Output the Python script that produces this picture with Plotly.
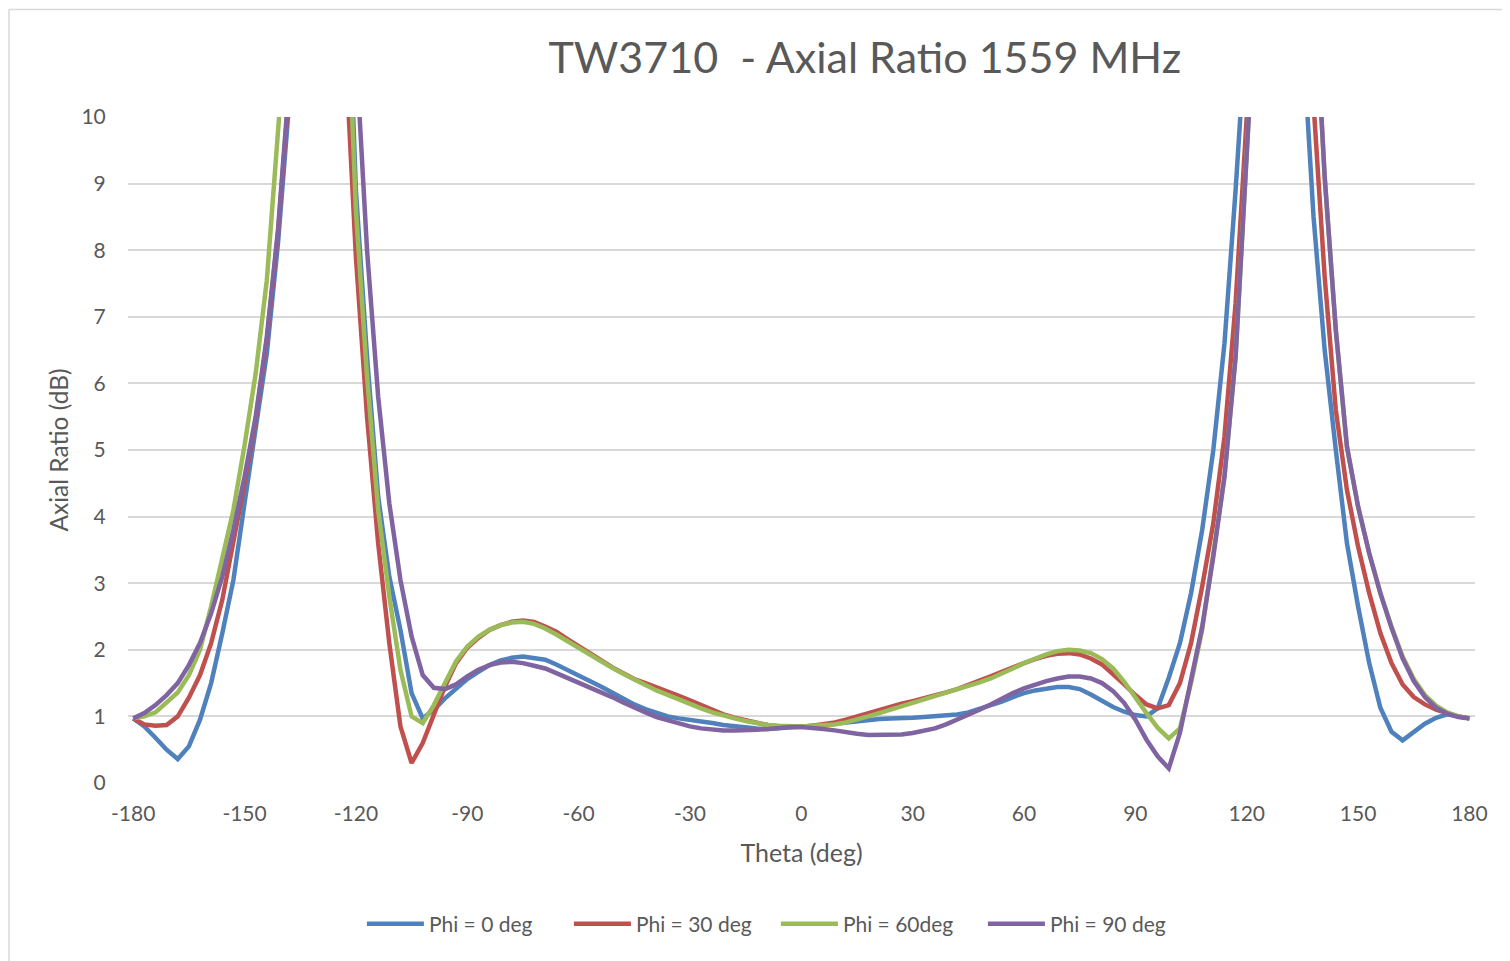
import plotly.graph_objects as go

theta = [-180, -177, -174, -171, -168, -165, -162, -159, -156, -153, -150, -147, -144, -141, -138,
         -135, -132, -129, -126, -123, -120, -117, -114, -111, -108, -105, -102, -99, -96, -93,
         -90, -87, -84, -81, -78, -75, -72, -69, -66, -63, -60, -57, -54, -51, -48, -45, -42,
         -39, -36, -33, -30, -27, -24, -21, -18, -15, -12, -9, -6, -3, 0, 3, 6, 9, 12, 15, 18,
         21, 24, 27, 30, 33, 36, 39, 42, 45, 48, 51, 54, 57, 60, 63, 66, 69, 72, 75, 78, 81, 84,
         87, 90, 93, 96, 99, 102, 105, 108, 111, 114, 117, 120, 123, 126, 129, 132, 135, 138,
         141, 144, 147, 150, 153, 156, 159, 162, 165, 168, 171, 174, 177, 180]

phi0 = [0.97, 0.85, 0.68, 0.50, 0.36, 0.55, 0.95, 1.50, 2.25, 3.05, 4.20, 5.30, 6.45, 8.10, 10.2,
        16, 24, 28, 24, 13.5, 8.9, 6.4, 4.3, 3.1, 2.3, 1.35, 0.97, 1.10, 1.27, 1.42,
        1.56, 1.67, 1.77, 1.84, 1.88, 1.90, 1.88, 1.85, 1.78, 1.70, 1.62, 1.53, 1.45, 1.36, 1.27, 1.18, 1.11,
        1.05, 1.00, 0.97, 0.95, 0.93, 0.90, 0.87, 0.85, 0.83, 0.82, 0.81, 0.82, 0.83, 0.84, 0.85, 0.87, 0.89, 0.91, 0.93, 0.95,
        0.96, 0.97, 0.97, 0.98, 0.99, 1.00, 1.01, 1.03, 1.06, 1.11, 1.16, 1.22, 1.29, 1.35, 1.39, 1.42, 1.44, 1.44, 1.41, 1.33, 1.23, 1.14,
        1.07, 1.02, 1.00, 1.12, 1.58, 2.10, 2.85, 3.80, 5.00, 6.60, 8.90, 11.5, 16, 24, 28, 22, 11.3, 8.5,
        6.5, 5.0, 3.6, 2.65, 1.80, 1.13, 0.77, 0.64, 0.76, 0.89, 0.98, 1.03, 1.00, 0.97]

phi30 = [0.97, 0.88, 0.86, 0.87, 1.00, 1.28, 1.62, 2.10, 2.75, 3.60, 4.50, 5.45, 6.65, 8.25, 10.4,
         16, 24, 28, 22, 11.2, 7.9, 5.5, 3.6, 2.1, 0.85, 0.30, 0.60, 1.02, 1.45, 1.80,
         2.03, 2.18, 2.30, 2.37, 2.42, 2.44, 2.42, 2.35, 2.27, 2.16, 2.05, 1.94, 1.84, 1.74, 1.65, 1.56, 1.50,
         1.44, 1.38, 1.31, 1.24, 1.17, 1.10, 1.03, 0.98, 0.94, 0.90, 0.87, 0.85, 0.84, 0.84, 0.86, 0.88, 0.91, 0.95, 1.00, 1.05,
         1.10, 1.15, 1.19, 1.23, 1.27, 1.31, 1.36, 1.41, 1.47, 1.53, 1.60, 1.67, 1.74, 1.80, 1.86, 1.91, 1.94, 1.95, 1.93, 1.87, 1.78, 1.64,
         1.48, 1.32, 1.18, 1.12, 1.17, 1.50, 2.10, 2.95, 3.90, 5.20, 7.20, 10.0, 14, 22, 28, 24, 14, 10.2,
         7.6, 5.6, 4.4, 3.55, 2.85, 2.25, 1.80, 1.48, 1.29, 1.18, 1.10, 1.05, 1.00, 0.97]

phi60 = [0.97, 1.00, 1.06, 1.20, 1.36, 1.62, 2.00, 2.65, 3.37, 4.10, 5.07, 6.15, 7.55, 9.50, 12.0,
         18, 26, 28, 22, 12.8, 8.6, 6.1, 4.1, 2.8, 1.70, 1.00, 0.90, 1.17, 1.50, 1.83,
         2.05, 2.20, 2.30, 2.37, 2.41, 2.42, 2.39, 2.32, 2.23, 2.13, 2.02, 1.92, 1.82, 1.73, 1.64, 1.55, 1.47,
         1.39, 1.32, 1.25, 1.18, 1.12, 1.06, 1.01, 0.97, 0.93, 0.90, 0.87, 0.86, 0.85, 0.85, 0.86, 0.87, 0.88, 0.91, 0.95, 1.00,
         1.05, 1.10, 1.15, 1.20, 1.25, 1.30, 1.35, 1.40, 1.45, 1.51, 1.57, 1.64, 1.72, 1.80, 1.87, 1.93, 1.98, 2.00, 1.99, 1.95, 1.86, 1.72,
         1.52, 1.28, 1.05, 0.83, 0.67, 0.82, 1.50, 2.30, 3.40, 4.60, 6.40, 9.10, 12.5, 20, 28, 26, 18, 12.2,
         9.1, 6.8, 5.05, 4.15, 3.45, 2.85, 2.35, 1.90, 1.56, 1.32, 1.16, 1.06, 1.00, 0.97]

phi90 = [0.97, 1.05, 1.17, 1.32, 1.50, 1.77, 2.10, 2.55, 3.10, 3.80, 4.60, 5.50, 6.70, 8.30, 10.5,
         16, 24, 30, 26, 15, 11.0, 8.0, 5.8, 4.2, 3.05, 2.20, 1.62, 1.43, 1.41, 1.48,
         1.60, 1.70, 1.77, 1.81, 1.82, 1.80, 1.76, 1.72, 1.65, 1.58, 1.51, 1.44, 1.37, 1.29, 1.21, 1.13, 1.06,
         0.99, 0.94, 0.89, 0.85, 0.82, 0.80, 0.79, 0.79, 0.79, 0.80, 0.81, 0.83, 0.84, 0.84, 0.83, 0.81, 0.79, 0.76, 0.74, 0.72,
         0.72, 0.72, 0.73, 0.75, 0.78, 0.82, 0.88, 0.95, 1.03, 1.10, 1.18, 1.27, 1.35, 1.42, 1.48, 1.53, 1.57, 1.60, 1.60, 1.57, 1.50, 1.38,
         1.20, 0.95, 0.65, 0.40, 0.22, 0.75, 1.55, 2.35, 3.40, 4.60, 6.40, 9.10, 12.5, 20, 28, 26, 18, 12.2,
         9.1, 6.8, 5.05, 4.15, 3.45, 2.85, 2.33, 1.87, 1.53, 1.29, 1.13, 1.04, 0.99, 0.97]

series_names = ["Phi = 0 deg", "Phi = 30 deg", "Phi = 60deg", "Phi = 90 deg"]
series_values = [phi0, phi30, phi60, phi90]
series_colors = ["#4F81BD", "#C0504D", "#9BBB59", "#8064A2"]

x_ticks = [-180, -150, -120, -90, -60, -30, 0, 30, 60, 90, 120, 150, 180]
y_ticks = [0, 1, 2, 3, 4, 5, 6, 7, 8, 9, 10]

FONT = "Lato, 'Open Sans', sans-serif"
TXT = "#595959"

fig = go.Figure()
for name, vals, col in zip(series_names, series_values, series_colors):
    fig.add_trace(go.Scatter(x=theta, y=vals, mode="lines", name=name,
                             line=dict(color=col, width=4.5)))

# the page body has an 8px margin, so the figure is sized to fill the rest of the window
fig.update_layout(
    width=1502, height=953,
    paper_bgcolor="white", plot_bgcolor="white",
    margin=dict(l=120, r=35, t=109, b=178, autoexpand=False),
    font=dict(family=FONT, color=TXT),
    title=dict(text="TW3710  - Axial Ratio 1559 MHz", x=0.547, xref="paper", xanchor="center",
               y=0.9475, yref="container", yanchor="middle",
               font=dict(size=43, color=TXT, family=FONT)),
    showlegend=True,
    legend=dict(orientation="h", x=0.481, xanchor="center", y=-0.212, yanchor="middle",
                font=dict(size=21, color=TXT, family=FONT), itemwidth=57,
                entrywidth=135, entrywidthmode="pixels",
                bgcolor="rgba(0,0,0,0)"),
    xaxis=dict(range=[-181.4, 181.5], tickvals=x_ticks, ticktext=[str(v) for v in x_ticks],
               showgrid=False, zeroline=False, showline=False,
               ticks="outside", ticklen=12, tickcolor="rgba(0,0,0,0)",
               tickfont=dict(size=21, color=TXT, family=FONT),
               title=dict(text="Theta (deg)", font=dict(size=25, color=TXT, family=FONT), standoff=20)),
    yaxis=dict(range=[0, 10], tickvals=y_ticks, showgrid=True, gridcolor="#D9D9D9", gridwidth=1.5,
               zeroline=False, showline=False,
               ticks="outside", ticklen=17, tickcolor="rgba(0,0,0,0)",
               tickfont=dict(size=21, color=TXT, family=FONT),
               title=dict(text="Axial Ratio (dB)", font=dict(size=24.5, color=TXT, family=FONT), standoff=5)),
    shapes=[dict(type="rect", xref="paper", yref="paper", x0=-0.0883, x1=1.2, y0=-0.5, y1=1.1615,
                 line=dict(color="#D9D9D9", width=1.5), fillcolor="rgba(0,0,0,0)", layer="below")],
)

fig.write_html("out.html")
